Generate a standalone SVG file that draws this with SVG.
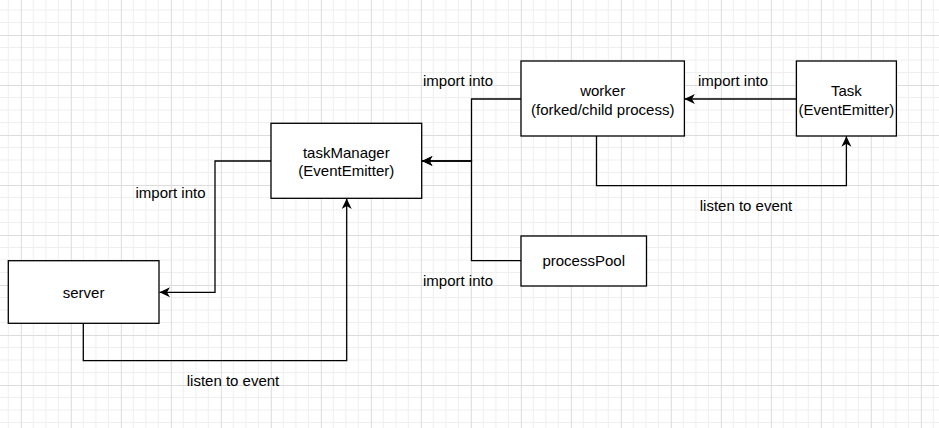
<svg xmlns="http://www.w3.org/2000/svg" width="939" height="428" viewBox="0 0 939 428">
<style>
.box{fill:#ffffff;stroke:#000000;stroke-width:1.3}
.edge{fill:none;stroke:#000000;stroke-width:1.3}
text{font-family:"Liberation Sans",Arial,Helvetica,sans-serif;font-size:15px;fill:#000000}
.c{text-anchor:middle}
</style>
<defs>
<pattern id="grid" patternUnits="userSpaceOnUse" x="20.83" y="35" width="50" height="50">
<path d="M12.5,0V50M25,0V50M37.5,0V50M0,12.5H50M0,25H50M0,37.5H50" stroke="#efefef" stroke-width="1" fill="none"/>
<path d="M0.5,0V50M0,0.5H50" stroke="#dcdcdc" stroke-width="1" fill="none"/>
</pattern>
<marker id="arr" markerUnits="userSpaceOnUse" viewBox="-11 -6 12 12" refX="0" refY="0" markerWidth="12" markerHeight="12" orient="auto">
<path d="M0,0 L-10.5,-5 L-7.5,0 L-10.5,5 Z" fill="#000000"/>
</marker>
</defs>
<rect x="0" y="0" width="939" height="428" fill="#ffffff"/>
<rect x="0" y="0" width="939" height="428" fill="url(#grid)"/>

<g id="connectors">
<path class="edge" d="M271,161 H215 V292.3 H159.5" marker-end="url(#arr)"/>
<path class="edge" d="M83.3,323.3 V360.7 H346.7 V198.5" marker-end="url(#arr)"/>
<path class="edge" d="M521,99 H471.5 V161 H422" marker-end="url(#arr)"/>
<path class="edge" d="M521,260.7 H471.5 V161 H422" marker-end="url(#arr)"/>
<path class="edge" d="M796.4,99 H684.4" marker-end="url(#arr)"/>
<path class="edge" d="M596.5,136 V185.7 H846.4 V136.3" marker-end="url(#arr)"/>
<text class="c" x="170.5" y="197.5">import into</text>
<text class="c" x="233" y="385.5">listen to event</text>
<text class="c" x="458" y="85.5">import into</text>
<text class="c" x="733" y="85.5">import into</text>
<text class="c" x="746" y="210.5">listen to event</text>
<text class="c" x="458" y="285.5">import into</text>
</g>

<g id="taskManager">
<rect class="box" x="271" y="123.3" width="150.7" height="75"/>
<text class="c" x="346.3" y="157.5">taskManager</text>
<text class="c" x="346.3" y="175.5">(EventEmitter)</text>
</g>
<g id="server">
<rect class="box" x="8.3" y="260.7" width="150.7" height="62.6"/>
<text class="c" x="83.6" y="297.5">server</text>
</g>
<g id="worker">
<rect class="box" x="521" y="61" width="163.4" height="75"/>
<text class="c" x="602.7" y="96">worker</text>
<text class="c" x="602.7" y="114.5">(forked/child process)</text>
</g>
<g id="Task">
<rect class="box" x="796.4" y="61" width="100" height="75"/>
<text class="c" x="846.4" y="96">Task</text>
<text class="c" x="846.4" y="114.5">(EventEmitter)</text>
</g>
<g id="processPool">
<rect class="box" x="521" y="236" width="125.5" height="50"/>
<text class="c" x="583.7" y="266">processPool</text>
</g>
</svg>
